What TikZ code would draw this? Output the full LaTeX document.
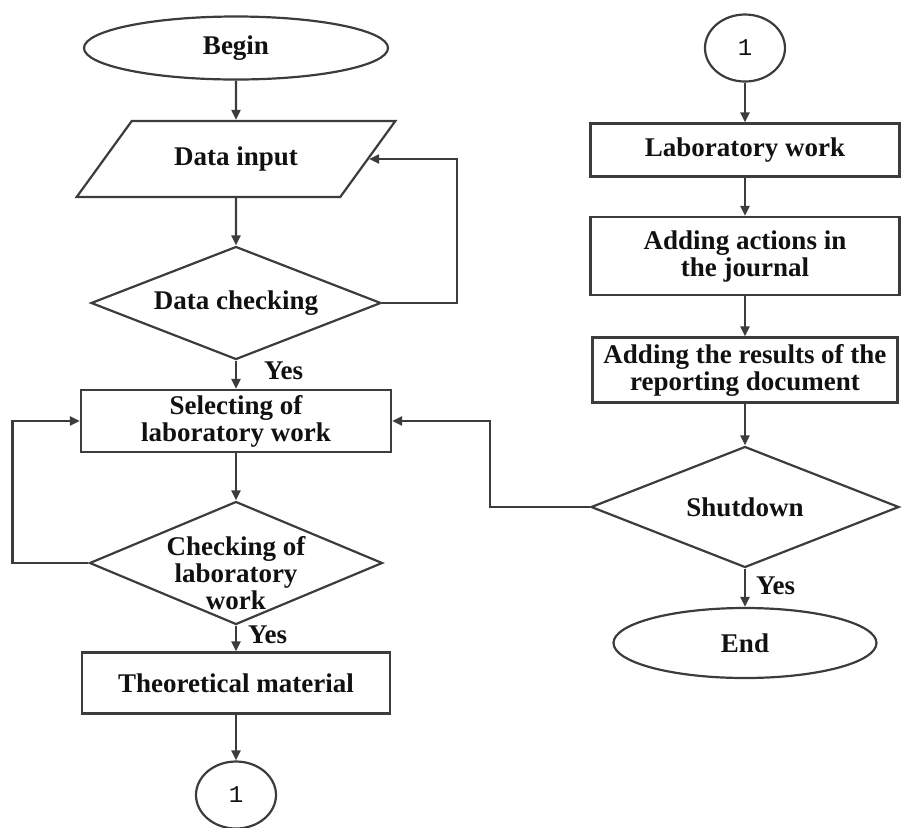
\documentclass[tikz,border=0pt]{standalone}
\usepackage{xcolor}
\usepackage{fontspec}
\setmainfont{Liberation Serif}
\setmonofont{Liberation Mono}
\usepackage{tikz}
\usetikzlibrary{shapes.geometric,arrows.meta,positioning}
\definecolor{labEdge}{HTML}{3C3C3C}
\definecolor{labText}{HTML}{111111}
\newcommand{\labfont}{\fontsize{13.5}{13.5}\selectfont\bfseries}
\newcommand{\labnum}{\fontsize{12}{12}\selectfont\ttfamily}
\tikzset{
  labstep/.style={rectangle,draw=labEdge,line width=1.1pt,text=labText,align=center,
                  inner sep=2pt,font=\labfont},
  labgate/.style={labstep,diamond,aspect=2.5,inner sep=0pt},
  labterm/.style={labstep,ellipse},
  labio/.style={labstep,trapezium,trapezium left angle=43,trapezium right angle=137,
                trapezium stretches=true},
  labjoin/.style={labstep,ellipse,minimum width=40pt,minimum height=33.5pt,font=\labnum},
  labflow/.style={-{Triangle[length=5pt,width=4.5pt]},draw=labEdge,line width=1.1pt},
  lablbl/.style={font=\labfont,text=labText,inner sep=1.5pt,align=center},
}
\begin{document}
\begin{tikzpicture}[x=0.5pt,y=0.5pt]
  \useasboundingbox (0,0) rectangle (907,-827);

  % left column
  \node[labterm,minimum width=152pt,minimum height=31.5pt] (S0) at (236,-48) {Begin};
  \node[labio,minimum width=160pt,minimum height=38pt] (D1) at (236,-159) {Data input};
  \node[labgate,minimum width=145pt,minimum height=56.5pt] (Q1) at (236,-303) {Data checking};
  \node[labstep,minimum width=155pt,minimum height=31pt] (P1) at (236,-421) {Selecting of\\laboratory work};
  \node[labgate,minimum width=146.5pt,minimum height=61.5pt] (Q2) at (236,-563) {};
  \node[lablbl,yshift=-5pt] (Q2t) at (Q2) {Checking of\\laboratory\\work};
  \node[labstep,minimum width=154pt,minimum height=30.5pt] (P2) at (236,-683) {Theoretical material};
  \node[labjoin] (J1) at (236,-795) {1};

  % right column
  \node[labjoin] (J2) at (745,-48) {1};
  \node[labstep,minimum width=154.5pt,minimum height=26.5pt] (P3) at (745,-150) {Laboratory work};
  \node[labstep,minimum width=154.5pt,minimum height=39pt] (P4) at (745,-256) {Adding actions in\\the journal};
  \node[labstep,minimum width=152.5pt,minimum height=32.5pt] (P5) at (745,-370) {Adding the results of the\\reporting document};
  \node[labgate,minimum width=154pt,minimum height=60.5pt] (Q3) at (745,-507) {Shutdown};
  \node[labterm,minimum width=131.5pt,minimum height=35pt] (S1) at (745,-643) {End};

  \draw[labflow] (S0)--(D1);
  \draw[labflow] (D1)--(Q1);
  \draw[labflow] (Q1)--node[lablbl,pos=0.37,right=12pt]{Yes}(P1);
  \draw[labflow] (P1)--(Q2);
  \draw[labflow] (Q2)--node[lablbl,pos=0.37,right=4pt]{Yes}(P2);
  \draw[labflow] (P2)--(J1);

  \draw[labflow] (J2)--(P3);
  \draw[labflow] (P3)--(P4);
  \draw[labflow] (P4)--(P5);
  \draw[labflow] (P5)--(Q3);
  \draw[labflow] (Q3)--node[lablbl,pos=0.46,right=3.5pt]{Yes}(S1);

  \draw[labflow] (Q1.east) -- ++(75,0) |- (D1.east);
  \draw[labflow] (Q2.west) -- ++(-76,0) |- (P1.west);
  \draw[labflow] (Q3.west) -- ++(-100,0) |- (P1.east);
\end{tikzpicture}
\end{document}
